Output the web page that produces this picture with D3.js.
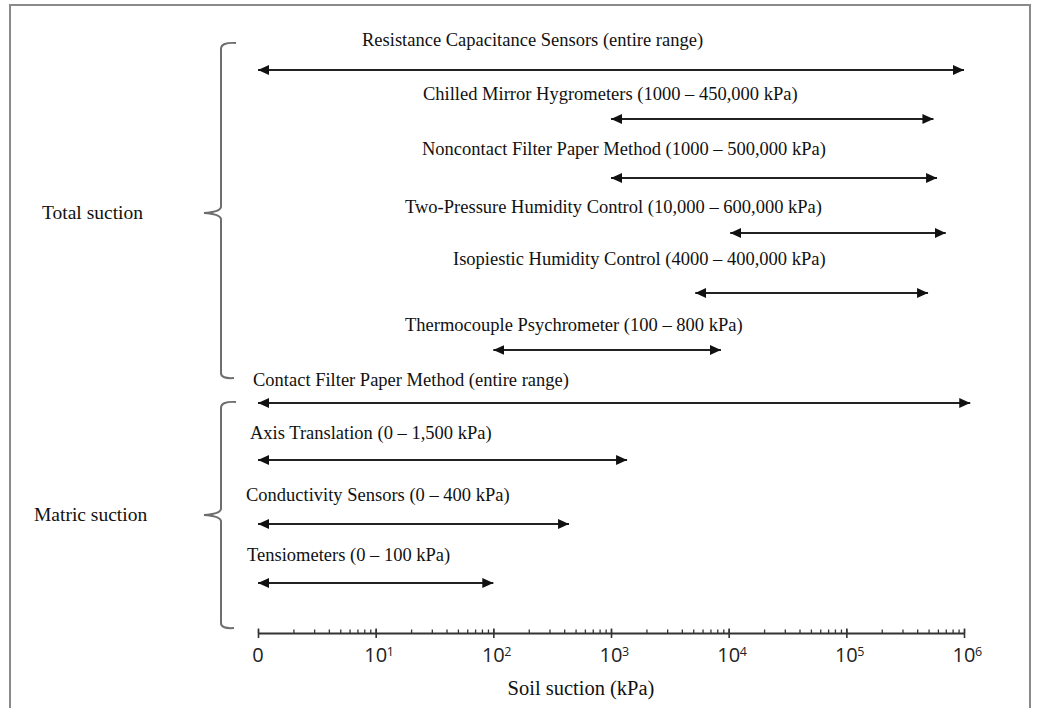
<!DOCTYPE html>
<meta charset="utf-8">
<script src="https://d3js.org/d3.v7.min.js"></script>
<style>
  body { margin: 0; background: #fff; }
</style>
<div id="chart"></div>
<script>

// measurement methods, top to bottom
var methods = [
  "Resistance Capacitance Sensors (entire range)",
  "Chilled Mirror Hygrometers (1000 \u2013 450,000 kPa)",
  "Noncontact Filter Paper Method (1000 \u2013 500,000 kPa)",
  "Two-Pressure Humidity Control (10,000 \u2013 600,000 kPa)",
  "Isopiestic Humidity Control (4000 \u2013 400,000 kPa)",
  "Thermocouple Psychrometer (100 \u2013 800 kPa)",
  "Contact Filter Paper Method (entire range)",
  "Axis Translation (0 \u2013 1,500 kPa)",
  "Conductivity Sensors (0 \u2013 400 kPa)",
  "Tensiometers (0 \u2013 100 kPa)"
];
// arrow ends as drawn (kPa, "0" sits at 1)
var fromKPa = [1, 1000, 1000, 10300, 5200, 100, 1, 1, 1, 1];
var toKPa = [1000000, 550000, 590000, 700000, 495000, 8600, 1130000, 1370, 440, 100];

var groups = ["Total suction", "Matric suction"];

var tickValues = [1, 10, 100, 1000, 10000, 100000, 1000000];
var tickBase = ["0", "10", "10", "10", "10", "10", "10"];
var tickExp = ["", "1", "2", "3", "4", "5", "6"];
var axisTitle = "Soil suction (kPa)";

// layout
var width = 1039, height = 708;
var axisY = 633;
var arrowY = [70, 119, 178, 233, 293, 350, 403, 460, 524, 583];
var labelY = [40, 94, 149, 207, 259, 325, 380, 433, 495, 555];
var labelX = [362, 423, 422, 405, 453, 405, 253, 250, 246, 247];
// brace top, cusp, bottom for each group
var braceTop = [43, 402], braceMid = [213, 515], braceBot = [378, 628];
var groupX = [42, 34];

var serif = "'Liberation Serif', 'Times New Roman', serif";
var sans = "'Open Sans', 'Liberation Sans', sans-serif";

var svg = d3.select("#chart")
  .append("svg")
    .attr("width", width)
    .attr("height", height);

// frame
svg.append("rect")
  .attr("x", 10).attr("y", 5)
  .attr("width", 1020).attr("height", 720)
  .attr("fill", "none")
  .attr("stroke", "#8a8a8a")
  .attr("stroke-width", 2);

var x = d3.scaleLog()
  .domain([1, 1000000])
  .range([258, 964]);

// arrowheads
var defs = svg.append("defs");
defs.append("marker")
    .attr("id", "head")
    .attr("markerUnits", "userSpaceOnUse")
    .attr("viewBox", "0 -6 12 12")
    .attr("refX", 11).attr("refY", 0)
    .attr("markerWidth", 12).attr("markerHeight", 12)
    .attr("orient", "auto-start-reverse")
  .append("path")
    .attr("d", "M0,-5L11,0L0,5Z")
    .attr("fill", "#111");

// arrows
svg.selectAll(".range")
  .data(methods)
  .enter()
  .append("line")
    .attr("class", "range")
    .attr("x1", function(d, i) { return x(fromKPa[i]); })
    .attr("x2", function(d, i) { return x(toKPa[i]); })
    .attr("y1", function(d, i) { return arrowY[i]; })
    .attr("y2", function(d, i) { return arrowY[i]; })
    .attr("stroke", "#222")
    .attr("stroke-width", 2.2)
    .attr("marker-start", "url(#head)")
    .attr("marker-end", "url(#head)");

// method labels
svg.selectAll(".label")
  .data(methods)
  .enter()
  .append("text")
    .attr("class", "label")
    .attr("x", function(d, i) { return labelX[i]; })
    .attr("y", function(d, i) { return labelY[i]; })
    .attr("dy", "0.33em")
    .style("font-family", serif)
    .style("font-size", "18.5px")
    .attr("fill", "#111")
    .text(function(d) { return d; });

// braces
function brace(top, mid, bot) {
  var bx = 221;
  return "M236," + top
    + " Q" + bx + "," + (top - 1) + " " + bx + "," + (top + 6)
    + " L" + bx + "," + (mid - 6)
    + " Q" + (bx - 1) + "," + (mid - 1) + " 204," + mid
    + " Q" + (bx - 1) + "," + (mid + 1) + " " + bx + "," + (mid + 6)
    + " L" + bx + "," + (bot - 5)
    + " Q" + bx + "," + (bot + 1) + " 234," + bot;
}
svg.selectAll(".brace")
  .data(groups)
  .enter()
  .append("path")
    .attr("class", "brace")
    .attr("d", function(d, i) { return brace(braceTop[i], braceMid[i], braceBot[i]); })
    .attr("fill", "none")
    .attr("stroke", "#6e6e6e")
    .attr("stroke-width", 2);

svg.selectAll(".group")
  .data(groups)
  .enter()
  .append("text")
    .attr("class", "group")
    .attr("x", function(d, i) { return groupX[i]; })
    .attr("y", function(d, i) { return braceMid[i]; })
    .attr("dy", "0.33em")
    .style("font-family", serif)
    .style("font-size", "19.5px")
    .attr("fill", "#111")
    .text(function(d) { return d; });

// axis: minor ticks up, major ticks both ways
var allTicks = [];
tickValues.forEach(function(v, i) {
  if (i < tickValues.length - 1) {
    for (var k = 1; k < 10; k++) allTicks.push(v * k);
  }
});
allTicks.push(1000000);

var axisUp = svg.append("g")
  .attr("transform", "translate(0," + axisY + ")")
  .call(d3.axisTop(x).tickValues(allTicks).tickSize(3.5).tickSizeOuter(0).tickFormat(""));
axisUp.select(".domain").attr("stroke", "#333").attr("stroke-width", 2);
axisUp.selectAll(".tick line").attr("stroke", "#333").attr("stroke-width", 1.3);

var axisDown = svg.append("g")
  .attr("transform", "translate(0," + axisY + ")")
  .call(d3.axisBottom(x).tickValues(tickValues).tickSize(5).tickSizeOuter(0).tickFormat(""));
axisDown.select(".domain").remove();
axisDown.selectAll(".tick line").attr("stroke", "#333").attr("stroke-width", 1.6);
axisDown.selectAll(".tick").append("line")
  .attr("y1", -4.5).attr("y2", 0)
  .attr("stroke", "#333").attr("stroke-width", 1.6);

// tick labels: base number plus exponent
var tl = svg.selectAll(".tl")
  .data(tickValues)
  .enter()
  .append("g")
    .attr("class", "tl")
    .attr("transform", function(d) { return "translate(" + x(d) + ",662)"; });
tl.append("text")
  .attr("text-anchor", "middle")
  .style("font-family", sans)
  .style("font-size", "20px")
  .attr("fill", "#222")
  .text(function(d, i) { return tickBase[i]; });
tl.append("text")
  .attr("x", 11)
  .attr("y", -6)
  .style("font-family", sans)
  .style("font-size", "12.5px")
  .attr("fill", "#222")
  .text(function(d, i) { return tickExp[i]; });

svg.append("text")
  .attr("x", 581)
  .attr("y", 688)
  .attr("dy", "0.33em")
  .attr("text-anchor", "middle")
  .style("font-family", serif)
  .style("font-size", "20.5px")
  .attr("fill", "#111")
  .text(axisTitle);

</script>
